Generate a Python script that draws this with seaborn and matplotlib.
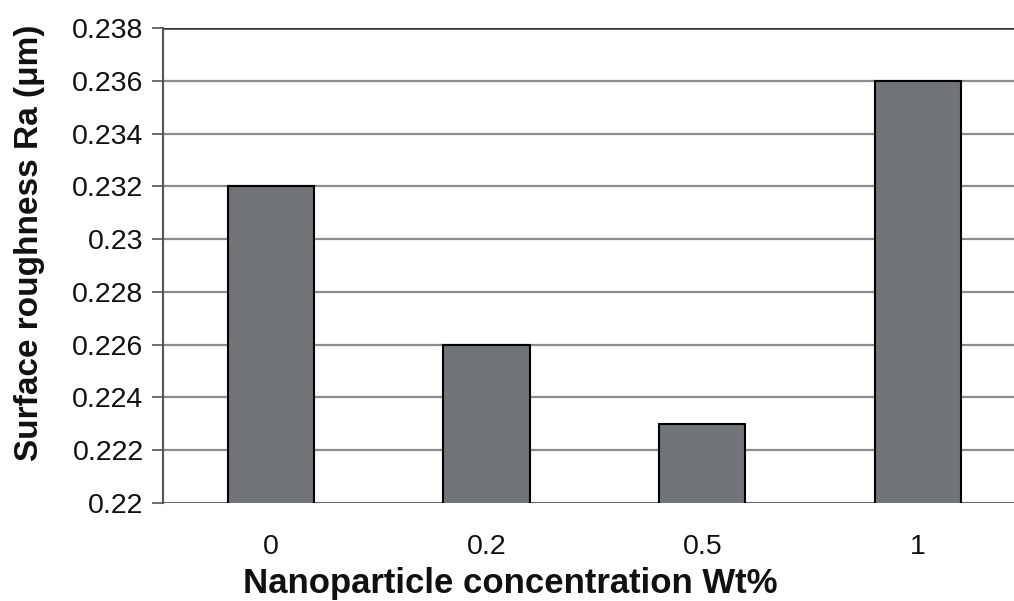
import seaborn as sns
import matplotlib.pyplot as plt
import numpy as np
import pandas as pd

concentration = ['0', '0.2', '0.5', '1']
roughness = [0.232, 0.226, 0.223, 0.236]
yticks = np.round(np.arange(0.220, 0.2381, 0.002), 3)
ytick_labels = ['0.22', '0.222', '0.224', '0.226', '0.228', '0.23', '0.232', '0.234', '0.236', '0.238']

sns.set_style("white")
plt.rcParams['font.family'] = ['Liberation Sans', 'DejaVu Sans']
plt.rcParams['text.color'] = '#111111'
plt.rcParams['xtick.color'] = '#111111'
plt.rcParams['ytick.color'] = '#111111'
plt.rcParams['axes.labelcolor'] = '#111111'

df = pd.DataFrame({'conc': concentration, 'ra': roughness})

fig = plt.figure(figsize=(10.14, 6.01), dpi=100)
ax = fig.add_axes([0.1607, 0.163, 0.851, 0.7904])

sns.barplot(data=df, x='conc', y='ra', order=concentration, color='#707377',
            saturation=1, width=0.4, edgecolor='black', linewidth=1.5, ax=ax, zorder=3)

ax.set_ylim(0.22, 0.238)
ax.set_xlim(-0.5, 3.5)
ax.set_yticks(yticks)
ax.set_yticklabels(ytick_labels, fontsize=20.5)
ax.tick_params(axis='y', length=8, width=1.2, color='#555555', pad=6, left=True)
ax.tick_params(axis='x', length=0, labelsize=20.5, pad=22)

ax.grid(False)
for v in yticks:
    if v in (yticks[0], yticks[-1]):
        ax.axhline(v, color='#333333', linewidth=1.8, zorder=2)
    else:
        ax.axhline(v, color='#8c8c8c', linewidth=1.6, zorder=1)

for side in ['top', 'right', 'bottom']:
    ax.spines[side].set_visible(False)
ax.spines['left'].set_color('#555555')
ax.spines['left'].set_linewidth(1.5)

ax.set_xlabel('Nanoparticle concentration Wt%', fontsize=25, fontweight='bold', va='top')
ax.set_ylabel('Surface roughness Ra (μm)', fontsize=24, fontweight='bold')
ax.xaxis.set_label_coords(0.402, -0.135)
ax.yaxis.set_label_coords(-0.137, 0.547)

plt.savefig('out.png', dpi=100)
